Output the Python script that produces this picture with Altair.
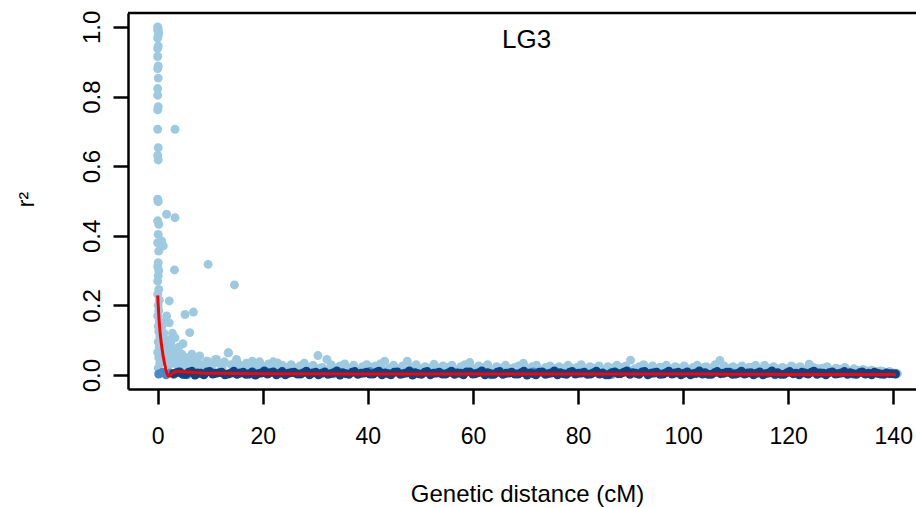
import altair as alt
import pandas as pd

panel_label = "LG3"
x_title = "Genetic distance (cM)"
y_title = "r²"
x_ticks = [0, 20, 40, 60, 80, 100, 120, 140]
y_ticks = [0.0, 0.2, 0.4, 0.6, 0.8, 1.0]

# light blue points: column at ~0 cM
col_x = [0.0, 0.1, 0.0, 0.2, 0.1, 0.0, 0.1, 0.0, 0.0, 0.1,
         0.0, 0.1, 0.0, 0.0, 0.1, 0.0, 0.0, 0.1, 0.0, 0.1,
         0.0, 0.1, 0.0, 0.2, 0.1, 0.0, 0.2, 0.1, 0.0, 0.2,
         0.1, 0.0, 0.2, 0.0, 0.3, 0.1, 0.2, 0.0, 0.3, 0.1,
         0.2, 0.4, 0.1, 0.3, 0.0, 0.2, 0.4, 0.1, 0.3]
col_y = [1.0, 0.995, 0.99, 0.983, 0.975, 0.968, 0.945, 0.938, 0.915, 0.888,
         0.88, 0.853, 0.823, 0.804, 0.771, 0.762, 0.706, 0.653, 0.631, 0.618,
         0.505, 0.498, 0.443, 0.433, 0.404, 0.38, 0.356, 0.323, 0.312, 0.30,
         0.285, 0.27, 0.246, 0.232, 0.215, 0.2, 0.185, 0.17, 0.155, 0.14,
         0.125, 0.11, 0.095, 0.08, 0.065, 0.05, 0.035, 0.02, 0.008]

# light blue scattered points near the origin
sc_x = [3.3, 1.7, 3.3, 0.76, 1.07, 3.2, 9.6, 14.6, 2.2, 5.2,
        6.8, 1.7, 2.2, 6.1, 3.3, 1.6, 0.8, 1.2, 0.6, 2.5,
        4.0, 4.6, 3.0, 2.0, 1.0, 1.5, 0.5, 2.6, 3.8, 5.5,
        7.0, 8.0, 13.4, 11.2, 15.0, 9.5, 18.0, 22.0, 1.2, 0.5,
        2.2, 4.2, 0.4, 1.4, 2.8, 0.9, 3.5, 4.8, 2.4, 1.9,
        5.8, 6.5, 4.3, 7.5]
sc_y = [0.706, 0.462, 0.452, 0.385, 0.371, 0.302, 0.318, 0.259, 0.213, 0.174,
        0.181, 0.17, 0.15, 0.122, 0.107, 0.155, 0.14, 0.12, 0.10, 0.09,
        0.08, 0.06, 0.07, 0.10, 0.085, 0.065, 0.07, 0.05, 0.04, 0.05,
        0.045, 0.055, 0.064, 0.045, 0.045, 0.04, 0.04, 0.038, 0.045, 0.035,
        0.03, 0.028, 0.13, 0.10, 0.12, 0.06, 0.055, 0.09, 0.075, 0.055,
        0.035, 0.06, 0.045, 0.03]

# light blue band along the whole linkage group (upper row)
band_x = [0.6, 1.3, 2.1, 2.9, 3.6, 4.4, 5.3, 6.1, 6.8, 7.7,
          8.5, 9.3, 10.2, 11.0, 11.8, 12.7, 13.5, 14.3, 15.2, 16.0,
          16.9, 17.7, 18.6, 19.4, 20.3, 21.1, 22.0, 22.8, 23.7, 24.5,
          25.4, 26.2, 27.1, 27.9, 28.8, 29.6, 30.5, 31.3, 32.2, 33.0,
          33.9, 34.7, 35.6, 36.4, 37.3, 38.1, 39.0, 39.8, 40.7, 41.5,
          42.4, 43.2, 44.1, 44.9, 45.8, 46.6, 47.5, 48.3, 49.2, 50.0,
          50.9, 51.7, 52.6, 53.4, 54.3, 55.1, 56.0, 56.8, 57.7, 58.5,
          59.4, 60.2, 61.1, 61.9, 62.8, 63.6, 64.5, 65.3, 66.2, 67.0,
          67.9, 68.7, 69.6, 70.4, 71.3, 72.1, 73.0, 73.8, 74.7, 75.5,
          76.4, 77.2, 78.1, 78.9, 79.8, 80.6, 81.5, 82.3, 83.2, 84.0,
          84.9, 85.7, 86.6, 87.4, 88.3, 89.1, 90.0, 90.8, 91.7, 92.5,
          93.4, 94.2, 95.1, 95.9, 96.8, 97.6, 98.5, 99.3, 100.2, 101.0,
          101.9, 102.7, 103.6, 104.4, 105.3, 106.1, 107.0, 107.8, 108.7, 109.5,
          110.4, 111.2, 112.1, 112.9, 113.8, 114.6, 115.5, 116.3, 117.2, 118.0,
          118.9, 119.7, 120.6, 121.4, 122.3, 123.1, 124.0, 124.8, 125.7, 126.5,
          127.4, 128.2, 129.1, 129.9, 130.8, 131.6, 132.5, 133.3, 134.2, 135.0,
          135.9, 136.7, 137.6, 138.4, 139.3, 140.1, 140.8]
band_y = [0.045, 0.052, 0.038, 0.055, 0.030, 0.048, 0.025, 0.042, 0.050, 0.035,
          0.028, 0.040, 0.022, 0.045, 0.032, 0.038, 0.064, 0.030, 0.036, 0.026,
          0.034, 0.020, 0.030, 0.038, 0.024, 0.032, 0.018, 0.035, 0.028, 0.022,
          0.030, 0.016, 0.026, 0.034, 0.020, 0.028, 0.056, 0.022, 0.045, 0.030,
          0.018, 0.026, 0.032, 0.020, 0.028, 0.014, 0.024, 0.030, 0.018, 0.026,
          0.032, 0.040, 0.020, 0.028, 0.016, 0.026, 0.040, 0.022, 0.030, 0.018,
          0.024, 0.020, 0.031, 0.016, 0.026, 0.022, 0.028, 0.014, 0.024, 0.030,
          0.036, 0.018, 0.026, 0.022, 0.030, 0.016, 0.024, 0.020, 0.028, 0.018,
          0.022, 0.026, 0.034, 0.018, 0.024, 0.028, 0.014, 0.022, 0.026, 0.018,
          0.024, 0.020, 0.028, 0.016, 0.022, 0.030, 0.018, 0.024, 0.020, 0.026,
          0.016, 0.024, 0.020, 0.028, 0.022, 0.026, 0.043, 0.018, 0.024, 0.030,
          0.020, 0.026, 0.016, 0.022, 0.028, 0.018, 0.024, 0.020, 0.026, 0.014,
          0.022, 0.028, 0.018, 0.024, 0.020, 0.030, 0.042, 0.026, 0.018, 0.024,
          0.020, 0.026, 0.016, 0.022, 0.028, 0.018, 0.028, 0.020, 0.024, 0.016,
          0.022, 0.018, 0.026, 0.020, 0.024, 0.016, 0.031, 0.022, 0.018, 0.020,
          0.024, 0.014, 0.020, 0.016, 0.022, 0.012, 0.018, 0.014, 0.016, 0.012,
          0.014, 0.010, 0.012, 0.008, 0.010, 0.006, 0.004]

# light blue band (lower row)
band2_x = [1.0, 2.5, 4.0, 5.5, 7.0, 8.9, 10.6, 12.3, 14.0, 15.6,
           17.3, 19.0, 20.7, 22.4, 24.1, 25.8, 27.5, 29.2, 30.9, 32.6,
           34.3, 36.0, 37.7, 39.4, 41.1, 42.8, 44.5, 46.2, 47.9, 49.6,
           51.3, 53.0, 54.7, 56.4, 58.1, 59.8, 61.5, 63.2, 64.9, 66.6,
           68.3, 70.0, 71.7, 73.4, 75.1, 76.8, 78.5, 80.2, 81.9, 83.6,
           85.3, 87.0, 88.7, 90.4, 92.1, 93.8, 95.5, 97.2, 98.9, 100.6,
           102.3, 104.0, 105.7, 107.4, 109.1, 110.8, 112.5, 114.2, 115.9, 117.6,
           119.3, 121.0, 122.7, 124.4, 126.1, 127.8, 129.5, 131.2, 132.9, 134.6,
           136.3, 138.0, 139.7]
band2_y = [0.060, 0.075, 0.040, 0.035, 0.030, 0.028, 0.034, 0.024, 0.030, 0.022,
           0.026, 0.018, 0.024, 0.020, 0.016, 0.022, 0.018, 0.024, 0.020, 0.016,
           0.022, 0.018, 0.014, 0.020, 0.024, 0.016, 0.022, 0.018, 0.014, 0.020,
           0.016, 0.022, 0.018, 0.014, 0.020, 0.016, 0.022, 0.018, 0.014, 0.020,
           0.016, 0.022, 0.018, 0.014, 0.020, 0.016, 0.022, 0.018, 0.014, 0.020,
           0.016, 0.022, 0.018, 0.014, 0.020, 0.016, 0.022, 0.018, 0.014, 0.020,
           0.016, 0.022, 0.018, 0.014, 0.020, 0.016, 0.022, 0.018, 0.014, 0.020,
           0.016, 0.018, 0.014, 0.020, 0.012, 0.016, 0.012, 0.014, 0.010, 0.012,
           0.008, 0.010, 0.006]

# medium blue points
mid_x = [0.2, 0.9, 1.6, 2.4, 3.1, 3.9, 4.7, 5.6, 6.4, 7.3, 8.2,
         10.5, 17.4, 25.5, 33.5, 40.4, 48.5, 56.5, 63.4, 71.5, 79.5,
         86.4, 94.5, 102.5, 109.4, 117.5, 125.5, 132.4, 140.5]
mid_y = [0.003, 0.008, 0.001, 0.006, 0.002, 0.009, 0.004, 0.001, 0.007, 0.003, 0.005,
         0.006, 0.002, 0.008, 0.004, 0.010, 0.003, 0.007, 0.001, 0.009, 0.005,
         0.002, 0.008, 0.004, 0.006, 0.001, 0.007, 0.003, 0.004]

# dark blue points
dark_x = [3.0, 4.2, 5.3, 6.5, 7.6, 8.8, 9.9, 11.1, 12.2, 13.4,
          14.5, 15.7, 16.8, 18.0, 19.1, 20.3, 21.4, 22.6, 23.7, 24.9,
          26.0, 27.2, 28.3, 29.5, 30.6, 31.8, 32.9, 34.1, 35.2, 36.4,
          37.5, 38.7, 39.8, 41.0, 42.1, 43.3, 44.4, 45.6, 46.7, 47.9,
          49.0, 50.2, 51.3, 52.5, 53.6, 54.8, 55.9, 57.1, 58.2, 59.4,
          60.5, 61.7, 62.8, 64.0, 65.1, 66.3, 67.4, 68.6, 69.7, 70.9,
          72.0, 73.2, 74.3, 75.5, 76.6, 77.8, 78.9, 80.1, 81.2, 82.4,
          83.5, 84.7, 85.8, 87.0, 88.1, 89.3, 90.4, 91.6, 92.7, 93.9,
          95.0, 96.2, 97.3, 98.5, 99.6, 100.8, 101.9, 103.1, 104.2, 105.4,
          106.5, 107.7, 108.8, 110.0, 111.1, 112.3, 113.4, 114.6, 115.7, 116.9,
          118.0, 119.2, 120.3, 121.5, 122.6, 123.8, 124.9, 126.1, 127.2, 128.4,
          129.5, 130.7, 131.8, 133.0, 134.1, 135.3, 136.4, 137.6, 138.7, 139.8]
dark_y = [0.004, 0.009, 0.002, 0.011, 0.006, 0.001, 0.010, 0.005, 0.008, 0.003,
          0.011, 0.006, 0.002, 0.009, 0.004, 0.012, 0.007, 0.001, 0.010, 0.005,
          0.008, 0.003, 0.011, 0.006, 0.001, 0.009, 0.004, 0.012, 0.007, 0.002,
          0.010, 0.005, 0.008, 0.003, 0.011, 0.006, 0.001, 0.009, 0.004, 0.012,
          0.007, 0.002, 0.010, 0.005, 0.008, 0.003, 0.011, 0.006, 0.001, 0.009,
          0.004, 0.012, 0.007, 0.002, 0.010, 0.005, 0.008, 0.003, 0.011, 0.006,
          0.001, 0.009, 0.004, 0.012, 0.007, 0.002, 0.010, 0.005, 0.008, 0.003,
          0.011, 0.006, 0.001, 0.009, 0.004, 0.012, 0.007, 0.002, 0.010, 0.005,
          0.008, 0.003, 0.011, 0.006, 0.001, 0.009, 0.004, 0.012, 0.007, 0.002,
          0.010, 0.005, 0.008, 0.003, 0.011, 0.006, 0.001, 0.009, 0.004, 0.012,
          0.007, 0.002, 0.010, 0.005, 0.008, 0.003, 0.011, 0.006, 0.001, 0.009,
          0.004, 0.010, 0.007, 0.002, 0.009, 0.005, 0.008, 0.003, 0.006, 0.004]

dark2_x = [3.6, 4.8, 5.9, 7.1, 8.2, 9.4, 10.5, 11.7, 12.8, 14.0,
           15.1, 16.3, 17.4, 18.6, 19.7, 20.9, 22.0, 23.2, 24.3, 25.5,
           26.6, 27.8, 28.9, 30.1, 31.2, 32.4, 33.5, 34.7, 35.8, 37.0,
           38.1, 39.3, 40.4, 41.6, 42.7, 43.9, 45.0, 46.2, 47.3, 48.5,
           49.6, 50.8, 51.9, 53.1, 54.2, 55.4, 56.5, 57.7, 58.8, 60.0,
           61.1, 62.3, 63.4, 64.6, 65.7, 66.9, 68.0, 69.2, 70.3, 71.5,
           72.6, 73.8, 74.9, 76.1, 77.2, 78.4, 79.5, 80.7, 81.8, 83.0,
           84.1, 85.3, 86.4, 87.6, 88.7, 89.9, 91.0, 92.2, 93.3, 94.5,
           95.6, 96.8, 97.9, 99.1, 100.2, 101.4, 102.5, 103.7, 104.8, 106.0,
           107.1, 108.3, 109.4, 110.6, 111.7, 112.9, 114.0, 115.2, 116.3, 117.5,
           118.6, 119.8, 120.9, 122.1, 123.2, 124.4, 125.5, 126.7, 127.8, 129.0,
           130.1, 131.3, 132.4, 133.6, 134.7, 135.9, 137.0, 138.2, 139.3, 140.4]
dark2_y = [0.007, 0.002, 0.008, 0.000, 0.005, 0.009, 0.003, 0.007, 0.001, 0.006,
           0.002, 0.008, 0.004, 0.000, 0.006, 0.003, 0.009, 0.005, 0.001, 0.007,
           0.003, 0.007, 0.001, 0.008, 0.005, 0.002, 0.007, 0.000, 0.004, 0.008,
           0.002, 0.006, 0.003, 0.008, 0.001, 0.004, 0.008, 0.002, 0.006, 0.000,
           0.004, 0.008, 0.001, 0.006, 0.003, 0.007, 0.002, 0.005, 0.009, 0.003,
           0.007, 0.001, 0.004, 0.008, 0.002, 0.006, 0.003, 0.007, 0.000, 0.004,
           0.008, 0.002, 0.006, 0.001, 0.004, 0.008, 0.003, 0.006, 0.002, 0.007,
           0.003, 0.001, 0.007, 0.004, 0.008, 0.002, 0.005, 0.009, 0.001, 0.006,
           0.002, 0.007, 0.003, 0.008, 0.005, 0.001, 0.006, 0.003, 0.002, 0.007,
           0.004, 0.008, 0.002, 0.006, 0.003, 0.007, 0.005, 0.001, 0.006, 0.003,
           0.002, 0.007, 0.004, 0.001, 0.006, 0.008, 0.002, 0.005, 0.007, 0.003,
           0.006, 0.002, 0.004, 0.007, 0.003, 0.001, 0.005, 0.002, 0.004, 0.003]

# red LOESS-like decay curve
fit_x = [0.0, 0.3, 0.76, 1.4, 2.0, 3.0, 3.9, 6.0, 8.0, 12.0,
         20.0, 40.0, 60.0, 80.0, 100.0, 120.0, 140.5]
fit_y = [0.229, 0.15, 0.083, 0.026, -0.003, 0.007, 0.010, 0.008, 0.006, 0.005,
         0.004, 0.003, 0.003, 0.003, 0.003, 0.002, 0.002]

for a, b in [(col_x, col_y), (sc_x, sc_y), (band_x, band_y), (band2_x, band2_y),
             (mid_x, mid_y), (dark_x, dark_y), (dark2_x, dark2_y), (fit_x, fit_y)]:
    assert len(a) == len(b)

light_df = pd.DataFrame({"x": band2_x + band_x + sc_x + col_x,
                         "y": band2_y + band_y + sc_y + col_y})
mid_df = pd.DataFrame({"x": mid_x, "y": mid_y})
dark_df = pd.DataFrame({"x": dark_x + dark2_x, "y": dark_y + dark2_y})
fit_df = pd.DataFrame({"x": fit_x, "y": fit_y})

FONT = "Liberation Sans"
W, H = 788, 376

xscale = alt.Scale(domain=[-5.65, 144.33], nice=False, zero=False)
yscale = alt.Scale(domain=[-0.04, 1.04], nice=False, zero=False)

xaxis = alt.Axis(values=x_ticks, format="d", grid=False, tickSize=15, tickWidth=2.5,
                 tickColor="black", domainColor="black", domainWidth=2.5,
                 labelFont=FONT, labelFontSize=23, labelColor="black", labelPadding=21,
                 labelFlush=False, labelOverlap=False,
                 title=x_title, titleFont=FONT, titleFontSize=24, titleFontWeight="normal",
                 titleColor="black", titleX=399, titleY=112, titleAlign="center",
                 titleBaseline="alphabetic")
yaxis = alt.Axis(values=y_ticks, format=".1f", grid=False, tickSize=15, tickWidth=2.5,
                 tickColor="black", domainColor="black", domainWidth=2.5,
                 labelFont=FONT, labelFontSize=24, labelColor="black", labelPadding=14,
                 labelAngle=270, labelAlign="center", labelBaseline="alphabetic",
                 labelFlush=False, labelOverlap=False,
                 title=y_title, titleFont=FONT, titleFontSize=23, titleFontWeight="normal",
                 titleColor="black", titleAngle=270, titleX=-95, titleY=186,
                 titleAlign="center", titleBaseline="alphabetic")

X = alt.X("x:Q", scale=xscale, axis=xaxis)
Y = alt.Y("y:Q", scale=yscale, axis=yaxis)

def pts(df, color):
    return alt.Chart(df).mark_circle(size=80, color=color, opacity=1).encode(x=X, y=Y)

light = pts(light_df, "#9ecae1")
mid = pts(mid_df, "#4a8ac6")
dark = pts(dark_df, "#0c4382")

fit = alt.Chart(fit_df).mark_line(color="#ff0000", strokeWidth=3, interpolate="monotone").encode(x=X, y=Y)

label = alt.Chart(pd.DataFrame({"t": [panel_label]})).mark_text(
    font=FONT, fontSize=26, align="center", baseline="alphabetic", color="black"
).encode(x=alt.value(398.7), y=alt.value(34.7), text="t:N")

top_line = alt.Chart(pd.DataFrame({"a": [0]})).mark_rule(color="black", strokeWidth=2.5).encode(
    x=alt.value(0), x2=alt.value(W), y=alt.value(0)
)

chart = alt.layer(light, mid, dark, fit, label, top_line).properties(
    width=W, height=H,
    autosize=alt.AutoSizeParams(type="none"),
    padding={"left": 128, "top": 13, "right": 0, "bottom": 119},
    background="white",
).configure_view(stroke=None)

chart.save("out.html", embed_options={"renderer": "svg", "actions": False})
